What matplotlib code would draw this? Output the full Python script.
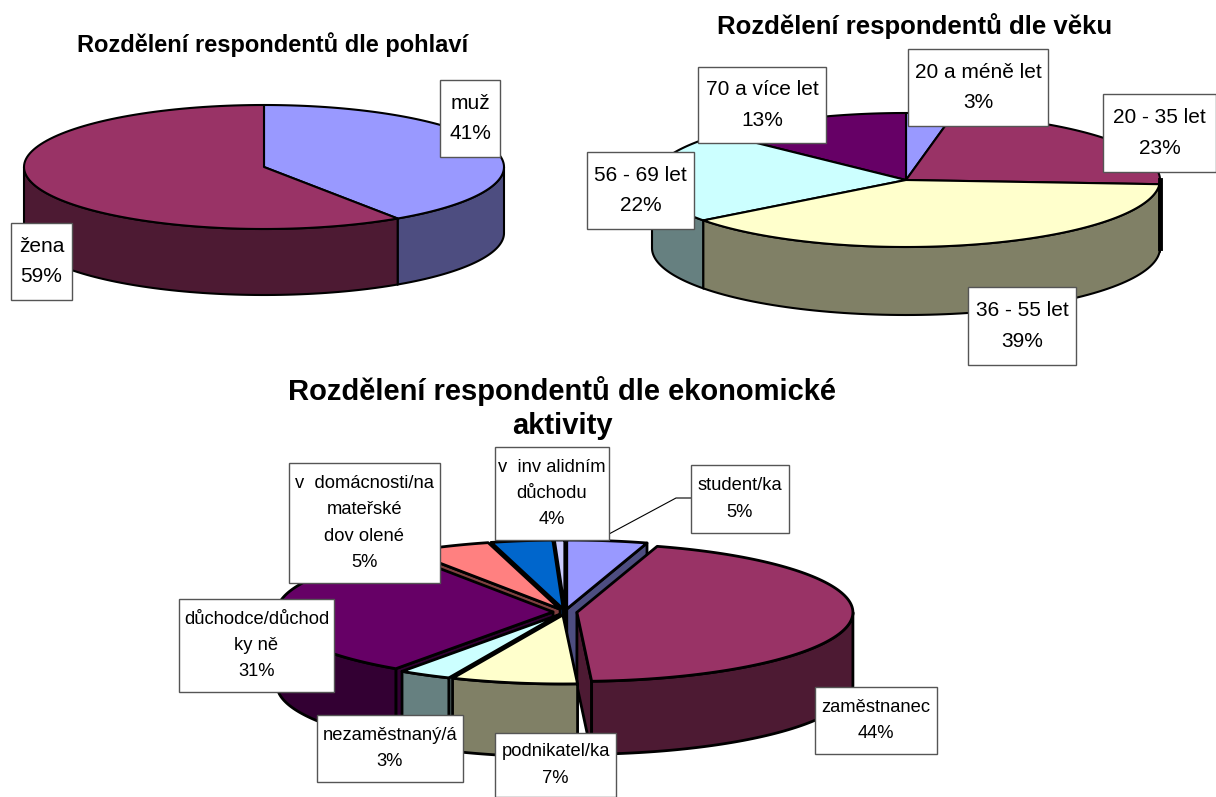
import numpy as np
import matplotlib
matplotlib.use('Agg')
import matplotlib.pyplot as plt
from matplotlib.patches import Polygon, Rectangle

plt.rcParams['font.family'] = ['Liberation Sans', 'DejaVu Sans']

# shares in percent
gender_values = [40.6, 59.4]
gender_labels = ['muž\n41%', 'žena\n59%']
gender_colors = ['#9999FF', '#993366']

age_values = [3, 23, 38.7, 22.3, 13]
age_labels = ['20 a méně let\n3%', '20 - 35 let\n23%', '36 - 55 let\n39%',
              '56 - 69 let\n22%', '70 a více let\n13%']
age_colors = ['#9999FF', '#993366', '#FFFFCC', '#CCFFFF', '#660066']

# last slice has no label of its own in the picture
work_values = [4.7, 44.5, 7.4, 3.1, 31.2, 5.0, 3.6, 0.6]
work_labels = ['student/ka\n5%', 'zaměstnanec\n44%', 'podnikatel/ka\n7%',
               'nezaměstnaný/á\n3%', 'důchodce/důchod\nky ně\n31%',
               'v  domácnosti/na\nmateřské\ndov olené\n5%',
               'v  inv alidním\ndůchodu\n4%']
work_colors = ['#9999FF', '#993366', '#FFFFCC', '#CCFFFF', '#660066',
               '#FF8080', '#0066CC', '#CCCCFF']

# label boxes as x0, y0, x1, y1 in pixels
gender_boxes = [(440, 80, 500, 157), (11, 223, 72, 300)]
age_boxes = [(908, 49, 1048, 126), (1103, 94, 1216, 172), (968, 287, 1076, 365),
             (587, 152, 694, 229), (698, 67, 826, 143)]
work_boxes = [(691, 465, 789, 533), (815, 687, 937, 754), (495, 733, 616, 797),
              (317, 715, 463, 782), (179, 599, 334, 692), (289, 463, 440, 583),
              (495, 447, 609, 540)]


def darker(color):
    return tuple(c * 0.5 for c in matplotlib.colors.to_rgb(color))


def pie3d(ax, values, colors, cx, cy, rx, ry, depth, explode=0, lw=1.5, heavy=None):
    # angles run clockwise from 12 o'clock, like the spreadsheet pie
    shares = np.array(values, dtype=float)
    edges = np.concatenate([[0], np.cumsum(shares) / shares.sum() * 2 * np.pi])
    slices = []
    for i in range(len(shares)):
        a, b = edges[i], edges[i + 1]
        mid = (a + b) / 2
        slices.append((np.cos(mid), a, b, mid, colors[i]))
    slices.sort(key=lambda s: -s[0])

    def pt(x0, y0, t):
        return x0 + rx * np.sin(t), y0 - ry * np.cos(t)

    for _, a, b, mid, color in slices:
        x0 = cx + explode * np.sin(mid)
        y0 = cy - explode * ry / rx * np.cos(mid)
        side = darker(color)
        style = dict(edgecolor='black', linewidth=lw, joinstyle='round')
        # radial faces, only the ones turned to the viewer
        for t, show in ((a, np.sin(a) < -1e-6), (b, np.sin(b) > 1e-6)):
            if show:
                tx, ty = pt(x0, y0, t)
                ax.add_patch(Polygon([(x0, y0), (tx, ty), (tx, ty + depth), (x0, y0 + depth)],
                                     facecolor=side, **style))
        # outer wall on the front half
        w0, w1 = max(a, np.pi / 2), min(b, 3 * np.pi / 2)
        if w1 > w0:
            ts = np.linspace(w0, w1, 80)
            px, py = pt(x0, y0, ts)
            wall = np.concatenate([np.column_stack([px, py]),
                                   np.column_stack([px, py + depth])[::-1]])
            ax.add_patch(Polygon(wall, facecolor=side, **style))
        ts = np.linspace(a, b, 120)
        px, py = pt(x0, y0, ts)
        top = np.concatenate([[[x0, y0]], np.column_stack([px, py])])
        ax.add_patch(Polygon(top, facecolor=color, **style))
    if heavy:
        ax.plot([cx + rx, cx + rx], [cy, cy + depth], color='black', lw=heavy, zorder=3)


def add_labels(ax, labels, boxes, size, spacing):
    for text, (x0, y0, x1, y1) in zip(labels, boxes):
        ax.add_patch(Rectangle((x0, y0), x1 - x0, y1 - y0, facecolor='white',
                               edgecolor='#555555', linewidth=1, zorder=5))
        ax.text((x0 + x1) / 2, (y0 + y1) / 2, text, ha='center', va='center',
                fontsize=size, linespacing=spacing, color='black', zorder=6)


fig = plt.figure(figsize=(12.16, 7.97), dpi=100)
ax = fig.add_axes([0, 0, 1, 1])
ax.set_xlim(0, 1216)
ax.set_ylim(797, 0)
ax.axis('off')

pie3d(ax, gender_values, gender_colors, 264, 167, 240, 62, 66)
pie3d(ax, age_values, age_colors, 906, 180, 254, 67, 68, heavy=3.5)
pie3d(ax, work_values, work_colors, 565, 612, 276, 69, 73, explode=12, lw=2)

ax.plot([691, 676, 609], [498, 498, 534], color='black', lw=0.8, zorder=4)

add_labels(ax, gender_labels, gender_boxes, 15, 1.74)
add_labels(ax, age_labels, age_boxes, 15, 1.74)
add_labels(ax, work_labels, work_boxes, 13.2, 1.7)

ax.text(273, 45, 'Rozdělení respondentů dle pohlaví', ha='center', va='center',
        fontsize=17, fontweight='bold')
ax.text(915, 26, 'Rozdělení respondentů dle věku', ha='center', va='center',
        fontsize=18.5, fontweight='bold')
ax.text(562, 408, 'Rozdělení respondentů dle ekonomické\naktivity', ha='center', va='center',
        fontsize=21, fontweight='bold', linespacing=1.3)

fig.savefig('out.png', dpi=100)
